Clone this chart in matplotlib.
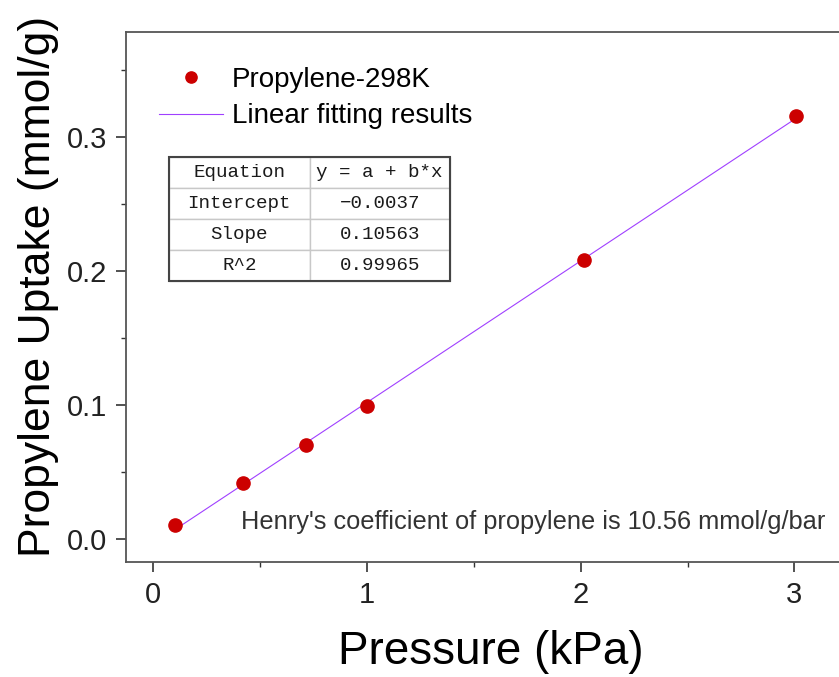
import matplotlib
matplotlib.use("Agg")
import matplotlib.pyplot as plt
from matplotlib.ticker import MultipleLocator
from matplotlib.patches import Rectangle

# Data
pressure = [0.1, 0.42, 0.714, 1.0, 2.015, 3.007]
uptake = [0.0102, 0.0420, 0.0700, 0.0995, 0.2085, 0.3158]

# Linear fit results
intercept = -0.0037
slope = 0.10563
fit_x = [0.1, 3.0]
fit_y = [intercept + slope * v for v in fit_x]

table_rows = [["Equation", "y = a + b*x"],
              ["Intercept", "\u22120.0037"],
              ["Slope", "0.10563"],
              ["R^2", "0.99965"]]

plt.rcParams['font.family'] = ['Liberation Sans', 'DejaVu Sans']

fig = plt.figure(figsize=(8.39, 6.77), dpi=100)
ax = fig.add_axes([126 / 839, 115 / 677, 730 / 839, 530 / 677])

ax.plot(fit_x, fit_y, color='#a040ff', lw=0.8, label='Linear fitting results', zorder=2)
ax.plot(pressure, uptake, 'o', color='#cc0000', ms=9.5, label='Propylene-298K', zorder=3)

ax.set_xlim(-0.128, 3.288)
ax.set_ylim(-0.0172, 0.3784)
ax.xaxis.set_major_locator(MultipleLocator(1))
ax.xaxis.set_minor_locator(MultipleLocator(0.5))
ax.yaxis.set_major_locator(MultipleLocator(0.1))
ax.yaxis.set_minor_locator(MultipleLocator(0.05))
ax.xaxis.set_major_formatter(plt.FuncFormatter(lambda v, p: "%d" % v))
ax.yaxis.set_major_formatter(plt.FuncFormatter(lambda v, p: "%.1f" % v))

for s in ax.spines.values():
    s.set_color('#555555')
    s.set_linewidth(1.3)
ax.tick_params(which='major', direction='out', length=7.5, width=1.2, color='#333333',
               labelsize=21, pad=6, labelcolor='#222222')
ax.tick_params(which='minor', direction='out', length=3.8, width=1.0, color='#333333')

ax.set_xlabel("Pressure (kPa)", fontsize=33, labelpad=15)
ax.set_ylabel("Propylene Uptake (mmol/g)", fontsize=32, labelpad=6)
ax.yaxis.label.set_y(0.52)

# legend (order: points first, then fit line)
h, l = ax.get_legend_handles_labels()
ax.legend([h[1], h[0]], [l[1], l[0]], loc='upper left', bbox_to_anchor=(0.045, 0.934),
          frameon=False, fontsize=20, numpoints=1, handlelength=2.3, markerscale=0.85,
          handletextpad=0.32, labelspacing=0.37, borderpad=0, borderaxespad=0)

# fit results table
tb = ax.table(cellText=table_rows, colWidths=[0.5, 0.5], cellLoc='center',
              bbox=[43 / 730, 281 / 530, 281 / 730, 124 / 530])
tb.auto_set_font_size(False)
for (r, c), cell in tb.get_celld().items():
    cell.set_edgecolor('#c8c8c8')
    cell.set_linewidth(1.0)
    cell.get_text().set_fontsize(13.8)
    cell.get_text().set_fontfamily('Liberation Mono')
    cell.get_text().set_color('#1a1a1a')
ax.add_patch(Rectangle((43 / 730, 281 / 530), 281 / 730, 124 / 530, transform=ax.transAxes,
                       fill=False, edgecolor='#444444', lw=1.5, zorder=5))

ax.text(0.9575, 0.075, "Henry's coefficient of propylene is 10.56 mmol/g/bar",
        transform=ax.transAxes, ha='right', va='center', fontsize=18.3,
        color='#333333')

fig.savefig("out.png", dpi=100)
